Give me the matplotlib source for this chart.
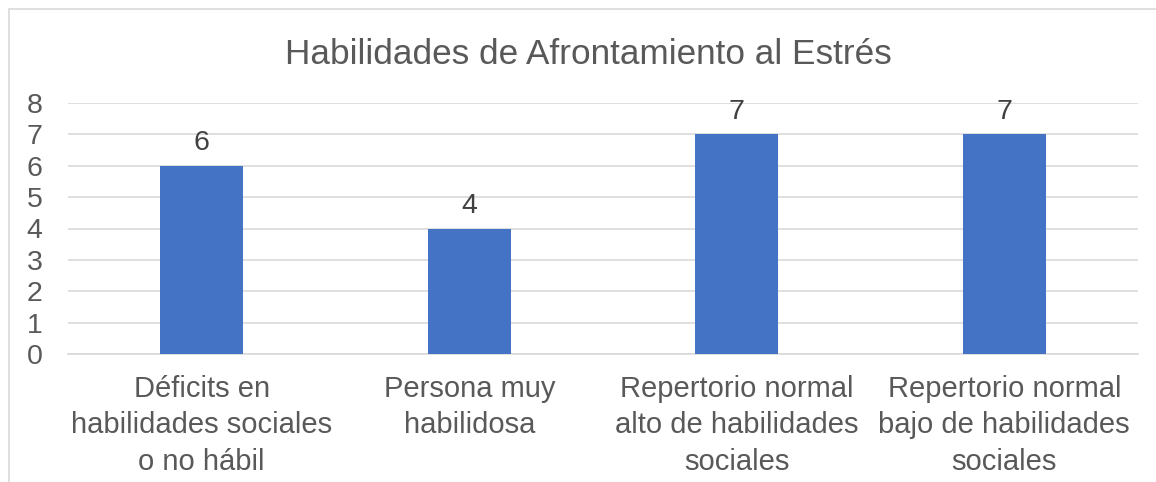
import matplotlib
matplotlib.use("Agg")
import matplotlib.pyplot as plt
from matplotlib.patches import Rectangle

categories = ["Déficits en\nhabilidades sociales\no no hábil",
              "Persona muy\nhabilidosa",
              "Repertorio normal\nalto de habilidades\nsociales",
              "Repertorio normal\nbajo de habilidades\nsociales"]
values = [6, 4, 7, 7]
yticks = [0, 1, 2, 3, 4, 5, 6, 7, 8]
title = "Habilidades de Afrontamiento al Estrés"

plt.rcParams['font.family'] = ['Liberation Sans', 'DejaVu Sans']
W, H = 1156, 482
fig = plt.figure(figsize=(W/100, H/100), dpi=100)
fig.patch.set_facecolor('white')

# chart frame (only top and left visible)
fig.patches.append(Rectangle((9/W, -0.1), 1.2, (H-9)/H + 0.1, transform=fig.transFigure,
                             fill=False, edgecolor='#D9D9D9', linewidth=1.2, zorder=0))

ax = fig.add_axes([68/W, 1-354/H, (1138-68)/W, (354-103)/H])
x = list(range(len(values)))
ax.bar(x, values, width=0.31, color='#4472C4', zorder=3)
ax.set_xlim(-0.5, len(values)-0.5)
ax.set_ylim(0, 8)
ax.set_yticks(yticks)
ax.set_yticklabels([str(t) for t in yticks], fontsize=20.5, color='#595959')
ax.set_xticks(x)
ax.set_xticklabels(categories, fontsize=21, color='#595959', linespacing=1.38)
ax.tick_params(axis='y', length=0, pad=18.5)
ax.tick_params(axis='x', length=0, pad=15)
ax.grid(axis='y', color='#D9D9D9', linewidth=1.2, zorder=0)
for s in ['top', 'right', 'left']:
    ax.spines[s].set_visible(False)
ax.spines['bottom'].set_color('#D9D9D9')
ax.spines['bottom'].set_linewidth(1.2)
for xi, v in zip(x, values):
    ax.annotate(str(v), (xi, v), xytext=(0, 7), textcoords='offset points',
                ha='center', va='bottom', fontsize=20.5, color='#404040')

fig.text(588/W, 1-55/H, title, ha='center', va='center', fontsize=25.3, color='#595959')

fig.savefig('out.png', dpi=100)
